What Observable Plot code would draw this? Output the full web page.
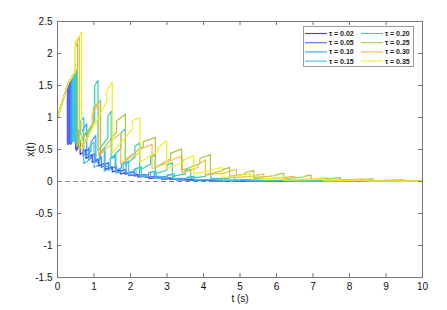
<!DOCTYPE html>
<html><head><meta charset="utf-8">
<script src="https://cdn.jsdelivr.net/npm/d3@7"></script>
<script src="https://cdn.jsdelivr.net/npm/@observablehq/plot@0.6"></script>
<style>
body{margin:0;background:#fff;font-family:"Liberation Sans",Arial,Helvetica,sans-serif}
#wrap{position:relative;width:447px;height:310px}
#legend{position:absolute;left:303px;top:26px}
</style>
</head><body><div id="wrap"></div>
<script>
// ---- data ----
const taus = [0.02, 0.05, 0.10, 0.15, 0.20, 0.25, 0.30, 0.35];
const seriesColors = ["#4a38d2", "#4f68f2", "#3d9ff2", "#3cc5e4", "#32d4a8", "#a9c944", "#fbba4c", "#f6ee24"];
const xTicks = [0,1,2,3,4,5,6,7,8,9,10];
const yTicks = [-1.5,-1,-0.5,0,0.5,1,1.5,2,2.5];
// common initial growth (t, x)
const rampT = [0, 0.29];
const rampX = [1, 1.53];
// impulse events per series: [t, x before jump, x after jump]
const ev002 = [[0.27,1.50,0.60],[0.29,0.60,1.53],[0.31,1.55,0.60],[0.33,0.61,1.57],[0.35,1.59,0.62],
  [0.50,0.72,0.50],[0.62,0.58,0.42],[0.78,0.50,0.36],[0.95,0.42,0.30],[1.12,0.35,0.24],[1.30,0.29,0.19],
  [1.50,0.23,0.15],[1.72,0.18,0.12],[1.95,0.14,0.09],[2.2,0.11,0.07],[2.5,0.085,0.05],[2.85,0.065,0.035],
  [3.25,0.045,0.025],[3.7,0.03,0.016],[4.3,0.02,0.01],[5.0,0.012,0.006],[6.0,0.007,0.003],[10,0.001,0.001]];
const ev005 = [[0.28,1.51,0.58],[0.30,0.58,1.54],[0.32,1.56,0.59],[0.34,0.60,1.58],[0.36,1.60,0.58],[0.38,0.60,1.61],[0.40,1.63,0.62],
  [0.52,0.78,0.48],[0.66,0.62,0.55],[0.70,0.56,0.40],[0.86,0.52,0.34],[1.02,0.44,0.30],[1.20,0.38,0.22],[1.40,0.30,0.18],
  [1.62,0.24,0.14],[1.85,0.19,0.11],[2.1,0.15,0.085],[2.4,0.11,0.065],[2.75,0.085,0.045],[3.1,0.06,0.032],
  [3.55,0.042,0.022],[4.1,0.028,0.014],[4.8,0.017,0.008],[5.8,0.01,0.004],[10,0.002,0.002]];
const ev010 = [[0.37,1.61,0.62],[0.39,0.62,1.63],[0.41,1.65,0.63],[0.43,0.64,1.67],[0.45,1.68,0.64],
  [0.58,0.80,0.55],[0.66,0.60,0.78],[0.80,0.90,0.40],[0.92,0.48,0.62],[1.05,0.72,0.30],[1.18,0.36,0.46],[1.30,0.52,0.22],
  [1.45,0.27,0.35],[1.58,0.40,0.17],[1.75,0.21,0.27],[1.88,0.30,0.13],[2.1,0.16,0.19],[2.25,0.22,0.09],[2.5,0.11,0.14],
  [2.65,0.16,0.065],[3.0,0.08,0.095],[3.15,0.11,0.045],[3.6,0.055,0.06],[3.75,0.07,0.03],[4.3,0.035,0.04],[4.5,0.045,0.018],
  [5.3,0.02,0.022],[5.5,0.025,0.01],[6.5,0.012,0.006],[10,0.002,0.002]];
const ev015 = [[0.42,1.66,0.64],[0.44,0.64,1.68],[0.46,1.70,0.62],[0.48,0.62,1.71],[0.49,1.72,0.60],
  [0.64,0.75,0.95],[0.72,1.00,0.28],[0.88,0.34,0.55],[1.0,0.62,0.22],[1.15,0.27,0.45],[1.28,0.52,0.16],[1.45,0.20,0.36],
  [1.6,0.41,0.13],[1.8,0.16,0.28],[1.95,0.32,0.10],[2.15,0.12,0.20],[2.3,0.23,0.07],[2.55,0.09,0.14],[2.7,0.16,0.05],
  [3.0,0.06,0.10],[3.2,0.12,0.035],[3.55,0.045,0.07],[3.75,0.08,0.025],[4.2,0.03,0.045],[4.4,0.05,0.015],[5.0,0.02,0.028],
  [5.2,0.03,0.01],[6.0,0.013,0.016],[6.3,0.017,0.006],[7.5,0.008,0.004],[10,0.002,0.002]];
const ev020 = [[0.52,1.74,0.55],[0.80,0.78,0.72],[1.02,0.95,1.50],[1.11,1.58,0.48],[1.38,0.68,1.02],[1.47,1.10,0.36],
  [1.74,0.52,0.76],[1.86,0.82,0.26],[2.12,0.38,0.55],[2.25,0.60,0.18],[2.55,0.27,0.38],[2.68,0.42,0.12],[3.0,0.18,0.26],
  [3.15,0.29,0.08],[3.5,0.12,0.17],[3.65,0.19,0.05],[4.05,0.08,0.11],[4.2,0.12,0.035],[4.7,0.05,0.07],[4.85,0.075,0.022],
  [5.4,0.032,0.045],[5.6,0.05,0.014],[6.3,0.02,0.028],[6.5,0.03,0.009],[7.5,0.012,0.006],[10,0.002,0.002]];
const ev025 = [[0.49,1.72,2.10],[0.55,2.16,0.55],[0.98,0.92,1.15],[1.18,1.27,0.45],[1.62,0.78,0.95],[1.86,1.05,0.34],
  [2.35,0.55,0.62],[2.68,0.69,0.22],[3.1,0.36,0.44],[3.4,0.51,0.17],[3.9,0.28,0.36],[4.19,0.42,0.12],[4.55,0.18,0.19],
  [4.72,0.22,0.08],[5.15,0.12,0.14],[5.38,0.17,0.06],[5.95,0.09,0.10],[6.2,0.13,0.045],[6.75,0.07,0.08],[6.95,0.10,0.03],
  [7.55,0.045,0.05],[7.75,0.06,0.02],[8.4,0.032,0.035],[8.65,0.04,0.012],[9.3,0.02,0.023],[9.5,0.026,0.008],[10,0.01,0.01]];
const ev030 = [[0.49,1.72,2.14],[0.60,2.25,0.50],[0.95,0.82,1.05],[1.13,1.22,0.40],[1.5,0.60,0.65],[1.73,0.75,0.28],
  [2.25,0.45,0.50],[2.59,0.58,0.20],[3.05,0.30,0.32],[3.42,0.40,0.13],[3.85,0.22,0.26],[4.05,0.34,0.10],[4.65,0.14,0.15],
  [4.9,0.19,0.06],[5.45,0.09,0.10],[5.65,0.12,0.04],[6.25,0.06,0.07],[6.5,0.08,0.03],[7.15,0.04,0.05],[7.4,0.055,0.02],
  [8.15,0.03,0.035],[8.4,0.04,0.014],[9.2,0.02,0.024],[9.45,0.028,0.01],[10,0.012,0.012]];
const ev035 = [[0.49,1.72,2.18],[0.66,2.33,0.50],[1.35,1.25,1.42],[1.50,1.55,0.45],[2.05,0.82,0.95],[2.26,1.00,0.30],
  [2.75,0.48,0.52],[2.99,0.64,0.20],[3.45,0.30,0.33],[3.73,0.41,0.12],[4.2,0.17,0.18],[4.51,0.22,0.06],[5.0,0.09,0.10],
  [5.3,0.12,0.035],[5.9,0.05,0.055],[6.2,0.065,0.02],[7.0,0.03,0.032],[7.3,0.038,0.012],[8.2,0.018,0.02],[8.5,0.022,0.008],
  [10,0.005,0.005]];

// ---- build table ----
const allEvents = [ev002, ev005, ev010, ev015, ev020, ev025, ev030, ev035];
const rows = [];
allEvents.forEach((ev, i) => {
  const tau = taus[i];
  rampT.forEach((t, j) => { if (t < ev[0][0]) rows.push({tau, t, x: rampX[j]}); });
  ev.forEach(([t, b, a]) => { rows.push({tau, t, x: b}); rows.push({tau, t, x: a}); });
});

const W = 447, H = 310, mL = 57, mR = 25, mT = 21, mB = 33;
const fw = W - mL - mR, fh = H - mT - mB, tk = 4;
const axisCol = "#777";

const chart = Plot.plot({
  width: W, height: H,
  marginLeft: mL, marginRight: mR, marginTop: mT, marginBottom: mB,
  style: {fontFamily: '"Liberation Sans", Arial, Helvetica, sans-serif', fontSize: "10px", color: "#111", background: "#fff"},
  x: {domain: [0, 10]},
  y: {domain: [-1.5, 2.5]},
  color: {type: "ordinal", domain: taus, range: seriesColors},
  marks: [
    Plot.ruleY([0], {stroke: "#888", strokeDasharray: "5,3", strokeWidth: 1}),
    Plot.line(rows, {x: "t", y: "x", z: "tau", stroke: "tau", strokeWidth: 1.2, curve: "linear"}),
    Plot.frame({stroke: axisCol}),
    Plot.tickX(xTicks, {x: d => d, stroke: axisCol, insetTop: fh - tk}),
    Plot.tickX(xTicks, {x: d => d, stroke: axisCol, insetBottom: fh - tk}),
    Plot.tickY(yTicks, {y: d => d, stroke: axisCol, insetRight: fw - tk}),
    Plot.tickY(yTicks, {y: d => d, stroke: axisCol, insetLeft: fw - tk}),
    Plot.axisX(xTicks, {tickSize: 0, tickPadding: 5, tickFormat: d => String(d), label: "t (s)", labelAnchor: "center", labelArrow: "none", labelOffset: 24}),
    Plot.axisY(yTicks, {tickSize: 0, tickPadding: 5, tickFormat: d => String(d), label: "x(t)", labelAnchor: "center", labelArrow: "none", labelOffset: 31})
  ]
});
const wrap = document.getElementById("wrap");
wrap.appendChild(chart);

// ---- legend ----
const lw = 111, lh = 41;
const leg = d3.select(wrap).append("svg").attr("id", "legend").attr("width", lw).attr("height", lh);
leg.append("rect").attr("x", 0.5).attr("y", 0.5).attr("width", lw - 1).attr("height", lh - 1)
  .attr("fill", "#fff").attr("stroke", "#999");
const fmt = d3.format(".2f");
taus.forEach((tau, i) => {
  const col = Math.floor(i / 4), row = i % 4;
  const x0 = 2 + col * 56, y0 = 7.5 + row * 9.2;
  leg.append("line").attr("x1", x0).attr("x2", x0 + 22).attr("y1", y0).attr("y2", y0)
    .attr("stroke", seriesColors[i]).attr("stroke-width", 1.1);
  leg.append("text").attr("x", x0 + 24).attr("y", y0).attr("dy", "0.35em")
    .attr("font-size", 7).attr("font-weight", "bold").attr("fill", "#222")
    .attr("font-family", '"Liberation Sans", Arial, sans-serif')
    .text("τ = " + fmt(tau));
});
</script>
</body></html>
